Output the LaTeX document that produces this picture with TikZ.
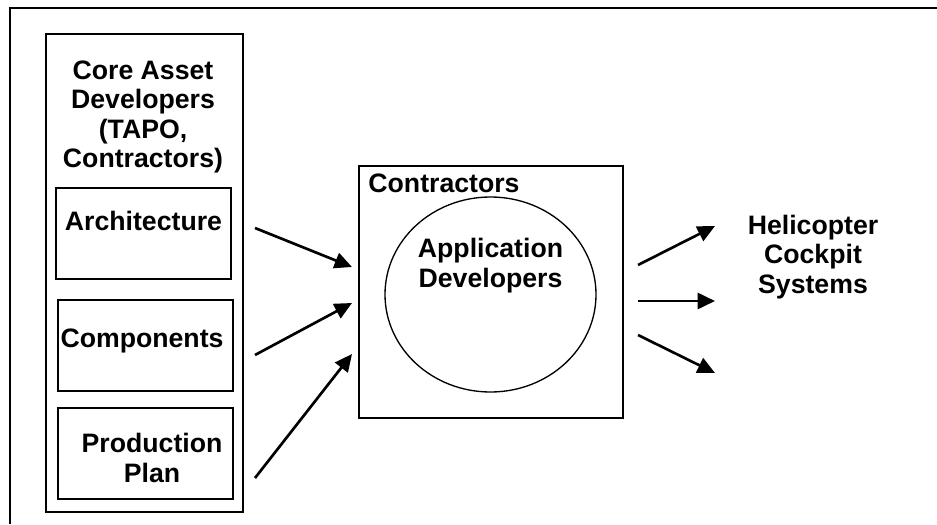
\documentclass[tikz,border=0pt]{standalone}
\usepackage{fontspec}
\setmainfont{Liberation Sans}
\usetikzlibrary{arrows.meta,shapes.geometric}

\begin{document}
\begin{tikzpicture}[x=0.75pt,y=-0.75pt]
      \tikzset{
        node distance=84pt,
        box/.style={draw,line width=1.4pt,inner sep=0pt,minimum width=131.25pt,minimum height=68.5pt},
        lbl/.style={font=\bfseries\fontsize{20}{22.2}\selectfont,align=center,inner sep=0pt},
        arr/.style={line width=2pt,-{Triangle[length=13pt,width=12pt]}}
      }
      \useasboundingbox (0,0) rectangle (937,524);

      % open outer frame
      \draw[line width=1.5pt] (10,524) -- (10,8) -- (937,8);

      % core asset side
      \node[box,minimum width=147.75pt,minimum height=358.5pt] (core) at (144.5,273) {};
      \node[lbl] (coretxt) at (143,117) {Core Asset\\Developers\\(TAPO,\\Contractors)};
      \node[box] (arch) at (143.5,233.5) {};
      \node[box,below of=arch,xshift=1.5pt] (comp) {};
      \node[box,below of=comp,node distance=81pt] (prod) {};
      \node[lbl] (archtxt) at (143.5,221) {Architecture};
      \node[lbl] (comptxt) at (142,341) {Components};
      \node[lbl] (prodtxt) at (152,458) {Production\\Plan};

      % contractors
      \node[box,minimum width=198pt,minimum height=189pt] (contr) at (491,292) {};
      \node[lbl] (contrtxt) at (444,183) {Contractors};
      \node[ellipse,draw,line width=1pt,inner sep=0pt,minimum width=158.25pt,minimum height=146.25pt] (appdev) at (490.5,294.5) {};
      \node[lbl] (apptxt) at (490.5,265.5) {Application\\Developers};

      % products
      \node[lbl] (heli) at (813,257) {Helicopter\\Cockpit\\Systems};

      % arrow ends
      \coordinate (in1) at (255,228);  \coordinate (to1) at (352,267);
      \coordinate (in2) at (255,355);  \coordinate (to2) at (352,303);
      \coordinate (in3) at (255,478);  \coordinate (to3) at (352,354);
      \coordinate (out1) at (638,265); \coordinate (hto1) at (715,226);
      \coordinate (out2) at (638,301); \coordinate (hto2) at (715,301);
      \coordinate (out3) at (638,335); \coordinate (hto3) at (715,373);

      \draw[arr] (in1) -- (to1);
      \draw[arr] (in2) -- (to2);
      \draw[arr] (in3) -- (to3);
      \draw[arr] (out1) -- (hto1);
      \draw[arr] (out2) -- (hto2);
      \draw[arr] (out3) -- (hto3);
\end{tikzpicture}
\end{document}
